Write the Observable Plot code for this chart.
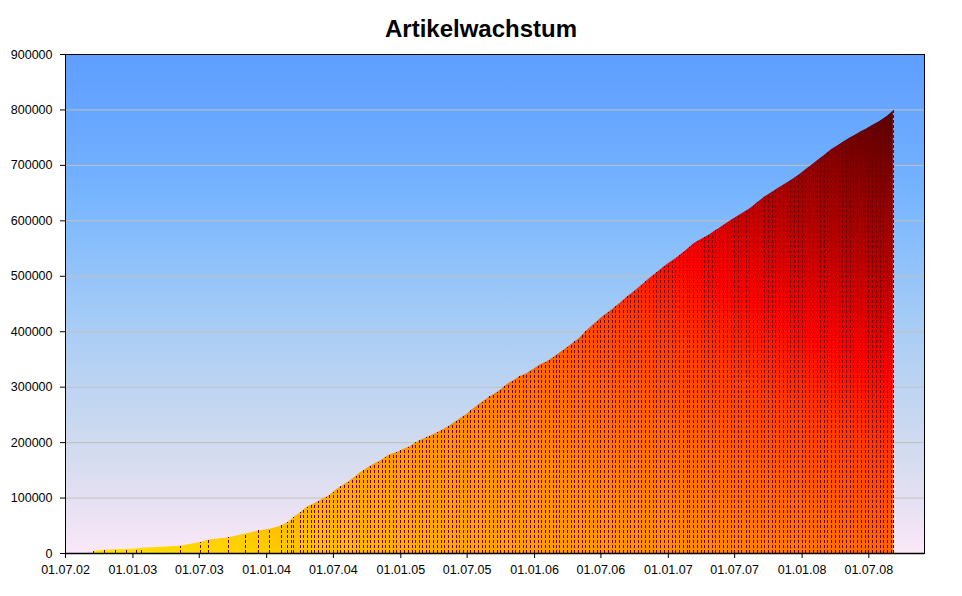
<!DOCTYPE html>
<html><head><meta charset="utf-8">
<script src="https://cdn.jsdelivr.net/npm/d3@7"></script>
<script src="https://cdn.jsdelivr.net/npm/@observablehq/plot@0.6"></script>
<style>
html,body{margin:0;padding:0;background:#fff;}
#wrap{position:relative;width:962px;height:596px;}
#title{position:absolute;left:0;top:17px;width:962px;text-align:center;font:bold 24px "Liberation Sans",Arial,sans-serif;line-height:24px;color:#000;z-index:2;}
</style></head>
<body><div id="wrap"><div id="title">Artikelwachstum</div></div>
<script>
const dates = [
  "2002-09-15","2002-10-15","2002-11-15","2002-12-15","2003-01-10","2003-01-25","2003-05-10",
  "2003-07-05","2003-07-25","2003-09-20","2003-11-05","2003-12-10","2004-01-10","2004-02-10",
  "2004-02-28","2004-03-08","2004-03-15",
  "2004-04-01","2004-04-11","2004-04-21","2004-05-01","2004-05-11","2004-05-21",
  "2004-06-01","2004-06-11","2004-06-21","2004-07-01","2004-07-11","2004-07-21",
  "2004-08-01","2004-08-11","2004-08-21","2004-09-01","2004-09-11","2004-09-21",
  "2004-10-01","2004-10-11","2004-10-21","2004-11-01","2004-11-11","2004-11-21",
  "2004-12-01","2004-12-11","2004-12-21",
  "2005-01-01","2005-01-11","2005-01-21","2005-02-01","2005-02-11","2005-02-21",
  "2005-03-01","2005-03-11","2005-03-21","2005-04-01","2005-04-11","2005-04-21",
  "2005-05-01","2005-05-11","2005-05-21","2005-06-01","2005-06-11","2005-06-21",
  "2005-07-01","2005-07-11","2005-07-21","2005-08-01","2005-08-11","2005-08-21",
  "2005-09-01","2005-09-11","2005-09-21","2005-10-01","2005-10-11","2005-10-21",
  "2005-11-01","2005-11-11","2005-11-21","2005-12-01","2005-12-11","2005-12-21",
  "2006-01-01","2006-01-11","2006-01-21","2006-02-01","2006-02-11","2006-02-21",
  "2006-03-01","2006-03-11","2006-03-21","2006-04-01","2006-04-11","2006-04-21",
  "2006-05-01","2006-05-11","2006-05-21","2006-06-01","2006-06-11","2006-06-21",
  "2006-07-01","2006-07-11","2006-07-21","2006-08-01","2006-08-11","2006-08-21",
  "2006-09-01","2006-09-11","2006-09-21","2006-10-01","2006-10-11","2006-10-21",
  "2006-11-01","2006-11-11","2006-11-21","2006-12-01","2006-12-11","2006-12-21",
  "2007-01-01","2007-01-11","2007-01-21","2007-02-01","2007-02-11","2007-02-21",
  "2007-03-01","2007-03-11","2007-03-21","2007-04-01","2007-04-11","2007-04-21",
  "2007-05-01","2007-05-11","2007-05-21","2007-06-01","2007-06-11","2007-06-21",
  "2007-07-01","2007-07-11","2007-07-21","2007-08-01","2007-08-11","2007-08-21",
  "2007-09-01","2007-09-11","2007-09-21","2007-10-01","2007-10-11","2007-10-21",
  "2007-11-01","2007-11-11","2007-11-21","2007-12-01","2007-12-11","2007-12-21",
  "2008-01-01","2008-01-11","2008-01-21","2008-02-01","2008-02-11","2008-02-21",
  "2008-03-01","2008-03-11","2008-03-21","2008-04-01","2008-04-11","2008-04-21",
  "2008-05-01","2008-05-11","2008-05-21","2008-06-01","2008-06-11","2008-06-21",
  "2008-07-01","2008-07-11","2008-07-21","2008-08-01","2008-08-11","2008-08-21",
  "2008-09-01","2008-09-06"
];
const articles = [
  3600,5800,6600,7200,7900,9600,13300,
  20000,24000,28500,35000,40600,43600,49700,
  55800,60500,65000,
  73100,78300,83700,86900,90300,93800,
  97700,101300,104800,110300,115800,120000,
  124700,128800,133800,139500,145000,149000,
  153200,157700,161300,165000,169200,173800,
  177600,179700,181700,
  185500,188500,191000,195400,199300,203100,
  205700,208500,211400,214500,218000,221400,
  224900,228700,233000,237900,242400,247200,
  251300,257300,262200,267700,272600,277500,
  282300,286500,290600,294800,300800,306200,
  310300,314500,318900,321600,324300,328500,
  333400,337900,341600,344500,348400,353000,
  356700,361400,366000,371500,376600,381600,
  386600,392700,399900,406600,412500,418100,
  424100,429100,434000,439500,445000,450600,
  456900,462700,467800,473200,478500,483800,
  490300,495800,500800,506400,511900,517200,
  522800,527300,531700,536800,542300,548000,
  552500,558400,562200,566200,569800,573600,
  578000,582400,586600,591600,596000,600400,
  604800,608700,612600,617100,621400,626500,
  632500,637800,642800,647100,651300,655400,
  660000,664200,668300,672500,676900,681200,
  686900,692000,697000,702500,707800,713000,
  717600,723000,728000,732500,736800,741200,
  745400,749300,752800,757200,761000,764500,
  768100,772000,775500,779600,783900,788800,
  795000,798200
];
const xTickDates = ["2002-07-01","2003-01-01","2003-07-01","2004-01-01","2004-07-01","2005-01-01",
  "2005-07-01","2006-01-01","2006-07-01","2007-01-01","2007-07-01","2008-01-01","2008-07-01"];
const yTicks = [0,100000,200000,300000,400000,500000,600000,700000,800000,900000];
const xDomain = ["2002-07-01","2008-11-30"];

const data = dates.map((d, i) => ({date: new Date(d), value: articles[i]}));

const svg = Plot.plot({
  width: 962, height: 596,
  marginLeft: 65, marginRight: 38, marginTop: 54, marginBottom: 43,
  style: {fontFamily: "'Liberation Sans', Arial, sans-serif", fontSize: "12.5px", color: "black", background: "white"},
  x: {type: "utc", domain: xDomain.map(d => new Date(d))},
  y: {domain: [0, 900000]},
  marks: [
    Plot.frame({fill: "url(#bgGrad)", stroke: "none"}),
    Plot.ruleY(yTicks.slice(1, -1), {stroke: "#c0c0c0", strokeWidth: 1}),
    Plot.areaY(data, {x: "date", y: "value", fill: "url(#fireGrad)", curve: "linear"}),
    Plot.ruleX(data, {x: "date", y1: 0, y2: "value", stroke: "#6a0000", strokeWidth: 1, strokeDasharray: "3,2", shapeRendering: "crispEdges"}),
    Plot.frame({stroke: "black", strokeWidth: 1}),
    Plot.ruleY([0], {stroke: "black", strokeWidth: 1.5}),
    Plot.axisY({ticks: yTicks, tickFormat: d3.format("d"), tickSize: 5, tickPadding: 8, label: null, stroke: "black"}),
    Plot.axisX({ticks: xTickDates.map(d => new Date(d)), tickFormat: d3.utcFormat("%d.%m.%y"), tickSize: 5, tickPadding: 7, label: null, stroke: "black"})
  ]
});

const defs = d3.select(svg).insert("defs", ":first-child");
const bg = defs.append("linearGradient").attr("id", "bgGrad")
  .attr("x1", 0).attr("y1", 0).attr("x2", 0).attr("y2", 1);
[[0, "#5e9eff"], [0.22, "#70aeff"], [0.29, "#78b6ff"], [0.55, "#a9cdf5"],
 [0.79, "#d2dbef"], [0.89, "#e4e0f2"], [1, "#fae8f8"]]
  .forEach(([o, c]) => bg.append("stop").attr("offset", o).attr("stop-color", c));
const fire = defs.append("linearGradient").attr("id", "fireGrad")
  .attr("x1", 0).attr("y1", 1).attr("x2", 1).attr("y2", 0);
[[0, "#ffe400"], [0.1, "#ffd000"], [0.2, "#ffac00"], [0.38, "#ff8a00"],
 [0.5, "#ff6400"], [0.6, "#ff3c00"], [0.7, "#ff0000"], [0.82, "#b40000"], [1, "#560000"]]
  .forEach(([o, c]) => fire.append("stop").attr("offset", o).attr("stop-color", c));

document.getElementById("wrap").appendChild(svg);
</script>
</body></html>
